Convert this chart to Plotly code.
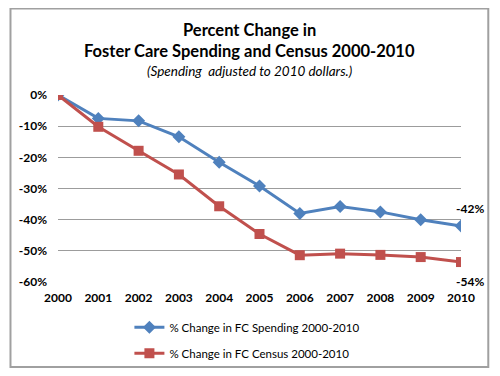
import plotly.graph_objects as go

years = [2000, 2001, 2002, 2003, 2004, 2005, 2006, 2007, 2008, 2009, 2010]
spending = [0.0, -7.5, -8.3, -13.4, -21.6, -29.2, -38.0, -35.8, -37.5, -40.0, -42.0]
census = [0.0, -10.2, -17.9, -25.5, -35.7, -44.6, -51.4, -50.9, -51.3, -52.0, -53.6]
spending_name = "% Change in FC Spending 2000-2010"
census_name = "% Change in FC Census 2000-2010"
y_ticks = [0, -10, -20, -30, -40, -50, -60]
y_tick_labels = ["0%", "-10%", "-20%", "-30%", "-40%", "-50%", "-60%"]
end_labels = ["-42%", "-54%"]

BLUE = "#4F81BD"
RED = "#C0504D"
FONT = "Lato"

fig = go.Figure()
fig.add_trace(go.Scatter(
    x=years, y=spending, name=spending_name, mode="lines+markers",
    line=dict(color=BLUE, width=3),
    marker=dict(symbol="diamond", size=10, color=BLUE),
    legendgroup="a",
))
fig.add_trace(go.Scatter(
    x=years, y=census, name=census_name, mode="lines+markers",
    line=dict(color=RED, width=3),
    marker=dict(symbol="square", size=10, color=RED),
    legendgroup="b",
))

fig.add_annotation(x=years[-1], y=spending[-1], text=end_labels[0], showarrow=False,
                   xanchor="center", yanchor="bottom", xshift=9, yshift=8,
                   font=dict(family=FONT, size=12, color="#000", weight="bold"))
fig.add_annotation(x=years[-1], y=census[-1], text=end_labels[1], showarrow=False,
                   xanchor="center", yanchor="top", xshift=9, yshift=-10,
                   font=dict(family=FONT, size=12, color="#000", weight="bold"))

# titles
fig.add_annotation(xref="paper", yref="paper", x=0.4764, y=1.3476, text="<b>Percent Change in</b>",
                   showarrow=False, xanchor="center", yanchor="middle",
                   font=dict(family=FONT, size=16.5, color="#000"))
fig.add_annotation(xref="paper", yref="paper", x=0.4764, y=1.235,
                   text="<b>Foster Care Spending and Census 2000-2010</b>",
                   showarrow=False, xanchor="center", yanchor="middle",
                   font=dict(family=FONT, size=16.5, color="#000"))
fig.add_annotation(xref="paper", yref="paper", x=0.4764, y=1.128,
                   text="<i>(Spending  adjusted to 2010 dollars.)</i>",
                   showarrow=False, xanchor="center", yanchor="middle",
                   font=dict(family=FONT, size=13.5, color="#000"))

# outer border
fig.add_shape(type="rect", xref="paper", yref="paper",
              x0=-0.1179, x1=1.0677, y0=-0.4545, y1=1.4626,
              line=dict(color="#a0a0a0", width=2), fillcolor="rgba(0,0,0,0)", layer="below")

fig.update_layout(
    width=492, height=368,
    margin=dict(l=50, r=39, t=87, b=94, autoexpand=False),
    paper_bgcolor="white", plot_bgcolor="rgba(0,0,0,0)",
    font=dict(family=FONT, color="#000"),
    showlegend=True,
    legend=dict(orientation="v", x=0.47, xanchor="center", y=-0.165, yanchor="top",
                font=dict(family=FONT, size=11.5, color="#000"),
                itemwidth=30, tracegroupgap=7, bgcolor="rgba(0,0,0,0)"),
    xaxis=dict(range=[2000, 2010], tickvals=years, ticktext=[str(y) for y in years],
               showgrid=False, zeroline=False, showline=False, ticks="",
               tickfont=dict(family=FONT, size=12, color="#000", weight="bold"),
               ticklabelstandoff=7, automargin=False),
    yaxis=dict(range=[-60, 0], tickvals=y_ticks, ticktext=y_tick_labels,
               showgrid=True, gridcolor="#9c9c9c", gridwidth=1, zeroline=False, showline=False,
               ticks="", tickfont=dict(family=FONT, size=12, color="#000", weight="bold"),
               ticklabelstandoff=10, automargin=False),
)

fig.write_html("out.html")
